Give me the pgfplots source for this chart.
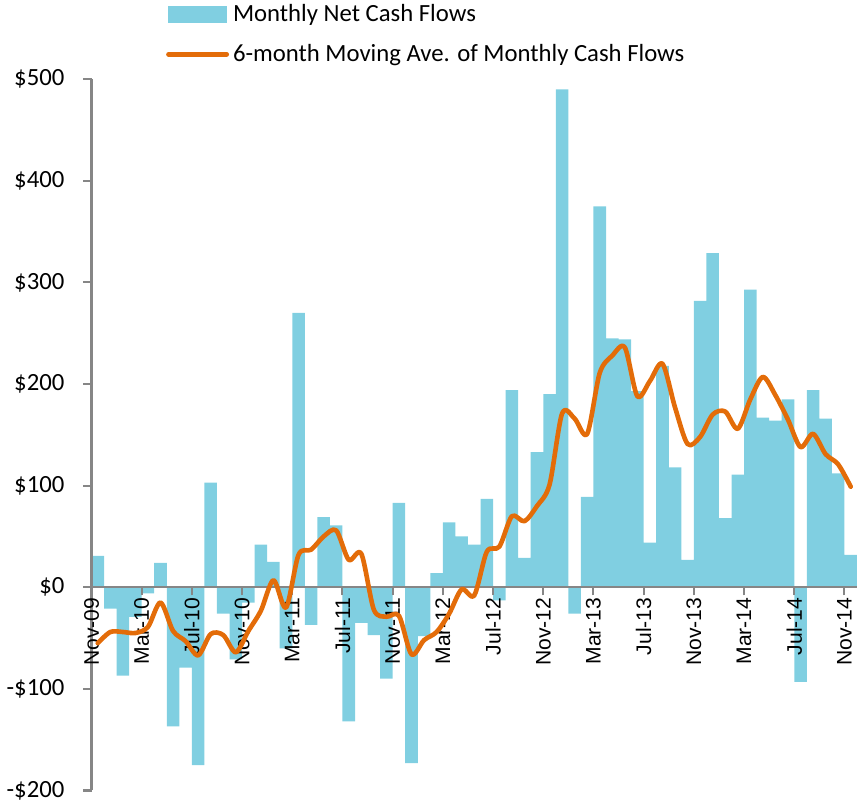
\documentclass[border=0pt]{standalone}
\usepackage{fontspec}
\setmainfont{Carlito}
\newfontfamily\arialf{Liberation Sans}
\usepackage{pgfplots}
\usepackage{pgfplotstable}
\pgfplotsset{compat=1.18}
\definecolor{barc}{RGB}{128,207,225}
\definecolor{mac}{RGB}{227,108,9}
\definecolor{axc}{RGB}{134,134,134}

% idx: months from Nov-09; flow: monthly net cash flow; ma: 6-month moving average
\pgfplotstableread{
idx flow ma
0 31 -55
1 -21 -44
2 -87 -44
3 -29 -45
4 -6 -39
5 24 -15
6 -137 -43
7 -79 -53
8 -175 -67
9 103 -46
10 -26 -47
11 -71 -64
12 -15 -43
13 42 -23
14 25 7
15 -60 -20
16 270 32
17 -37 37
18 69 50
19 61 56
20 -132 27
21 -35 33
22 -47 -22
23 -90 -29
24 83 -28
25 -173 -66
26 -48 -52
27 14 -44
28 64 -26
29 50 -2
30 42 -8
31 87 35
32 -13 40
33 194 70
34 29 65
35 133 80
36 190 101
37 490 171
38 -26 166
39 89 151
40 375 211
41 245 228
42 244 236
43 193 188
44 44 203
45 218 220
46 118 177
47 27 141
48 282 148
49 329 170
50 68 173
51 111 156
52 293 185
53 167 207
54 164 189
55 185 165
56 -93 138
57 194 151
58 166 131
59 112 121
60 32 99
}\cashdata

\begin{document}
\begin{tikzpicture}
\begin{axis}[
  set layers,
  scale only axis,
  width=381bp, height=354bp,
  xmin=1, xmax=62,
  ymin=-200, ymax=500,
  axis on top,
  axis x line=middle,
  axis y line=left,
  hide obscured x ticks=false,
  axis line style={-, axc, line width=1bp},
  xtick={1,5,...,61},
  xticklabels={Nov-09,Mar-10,Jul-10,Nov-10,Mar-11,Jul-11,Nov-11,Mar-12,Jul-12,Nov-12,Mar-13,Jul-13,Nov-13,Mar-14,Jul-14,Nov-14},
  xticklabel style={rotate=90, anchor=east, font=\arialf\fontsize{10.5bp}{12bp}\selectfont, inner sep=1bp},
  ytick={-200,-100,...,500},
  yticklabels={-\$200,-\$100,\$0,\$100,\$200,\$300,\$400,\$500},
  yticklabel style={font=\fontsize{12.3bp}{14bp}\selectfont, xshift=-6bp},
  tick align=outside,
  major tick length=4bp,
  tick style={axc, line width=1bp},
  clip=false,
  legend cell align=left,
  legend style={at={(0.097,1.112)}, anchor=north west, draw=none, fill=none,
    font=\fontsize{12.3bp}{14bp}\selectfont, row sep=6bp, inner sep=0pt,
    /tikz/every even column/.append style={column sep=1bp}},
]
\addplot[ybar, bar width=1, bar shift=0pt, draw=none, fill=barc,
  legend image code/.code={\fill[barc] (0bp,-4.25bp) rectangle (29bp,4.25bp);}]
  table[x expr=\thisrow{idx}+1.5, y=flow] {\cashdata};
\addlegendentry{Monthly Net Cash Flows}
\addplot[mac, line width=2.3bp, smooth, tension=0.5, line cap=round, line join=round,
  on layer=axis foreground,
  legend image code/.code={\draw[mac, line width=2.3bp, line cap=round] (0bp,0bp) -- (29bp,0bp);}]
  table[x expr=\thisrow{idx}+1.5, y=ma] {\cashdata};
\addlegendentry{6-month Moving Ave. of Monthly Cash Flows}
\end{axis}
\end{tikzpicture}
\end{document}
